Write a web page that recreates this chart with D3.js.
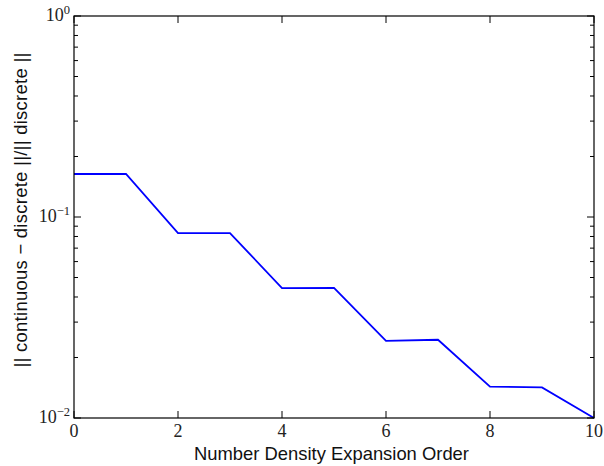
<!DOCTYPE html>
<html><head><meta charset="utf-8">
<script src="https://cdn.jsdelivr.net/npm/d3@7"></script>
<style>body{margin:0;background:#fff}svg{display:block}</style>
</head><body>
<svg id="c" width="604" height="466"></svg>
<script>
const orders = [0,1,2,3,4,5,6,7,8,9,10];
const relError = [0.1637,0.1637,0.0832,0.0832,0.0443,0.0444,0.0242,0.0245,0.01432,0.0142,0.0100];
const xTicks = [0,2,4,6,8,10];
const yTicks = [0.01,0.1,1];
const yTickExp = ["\u22122","\u22121","0"];
const xLabel = "Number Density Expansion Order";
const yLabel = "|| continuous \u2212 discrete ||/|| discrete ||";

const svg = d3.select("#c");
const L=74, R=594, T=16, B=418;
const x = d3.scaleLinear().domain([0,10]).range([L,R]);
const y = d3.scaleLog().domain([0.01,1]).range([B,T]);
const serif = "'Liberation Serif','DejaVu Serif',serif";
const sans = "'Liberation Sans',Arial,sans-serif";

// line
svg.append("path").datum(orders.map((o,i)=>[o,relError[i]]))
  .attr("fill","none").attr("stroke","#0000ff").attr("stroke-width",1.8)
  .attr("d", d3.line().x(d=>x(d[0])).y(d=>y(d[1])));

const g = svg.append("g").attr("stroke","#000").attr("stroke-width",1);
xTicks.forEach(t=>{
  g.append("line").attr("x1",x(t)).attr("x2",x(t)).attr("y1",B).attr("y2",B-7);
  g.append("line").attr("x1",x(t)).attr("x2",x(t)).attr("y1",T).attr("y2",T+7);
});
const minors=[];
for (let e=-2;e<0;e++) for (let m=2;m<=9;m++) minors.push(m*Math.pow(10,e));
yTicks.forEach(t=>{
  g.append("line").attr("x1",L).attr("x2",L+7).attr("y1",y(t)).attr("y2",y(t));
  g.append("line").attr("x1",R).attr("x2",R-7).attr("y1",y(t)).attr("y2",y(t));
});
minors.forEach(t=>{
  g.append("line").attr("x1",L).attr("x2",L+4).attr("y1",y(t)).attr("y2",y(t));
  g.append("line").attr("x1",R).attr("x2",R-4).attr("y1",y(t)).attr("y2",y(t));
});
svg.append("rect").attr("x",L).attr("y",T).attr("width",R-L).attr("height",B-T)
  .attr("fill","none").attr("stroke","#000").attr("stroke-width",1.2);

xTicks.forEach(t=>{
  svg.append("text").attr("x",x(t)).attr("y",B+19).attr("text-anchor","middle")
    .attr("font-family",serif).attr("font-size",18).attr("fill","#222").text(t);
});
yTicks.forEach((t,i)=>{
  const tx = svg.append("text").attr("x",L-4).attr("y",y(t)+5).attr("text-anchor","end")
    .attr("font-family",serif).attr("font-size",18).attr("fill","#222");
  tx.append("tspan").text("10");
  tx.append("tspan").attr("dy",-7).attr("font-size",12.5).text(yTickExp[i]);
});
svg.append("text").attr("x",331.5).attr("y",460).attr("text-anchor","middle")
  .attr("font-family",sans).attr("font-size",18.4).attr("fill","#111").text(xLabel);
svg.append("text").attr("transform",`translate(27,210) rotate(-90)`)
  .attr("text-anchor","middle").attr("font-family",sans).attr("font-size",18.4)
  .attr("letter-spacing",0.3).attr("fill","#111").text(yLabel);
</script>
</body></html>
